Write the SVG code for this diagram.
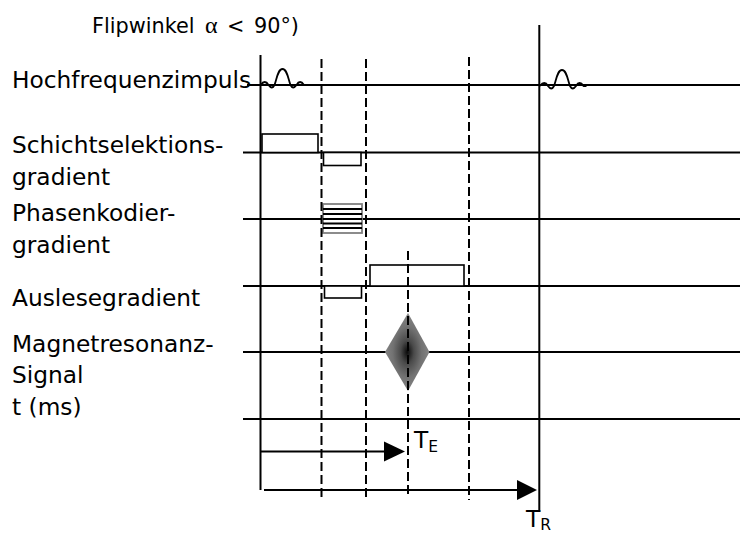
<svg xmlns="http://www.w3.org/2000/svg" width="740" height="535" viewBox="0 0 740 535">
  <defs>
    <style>
      .lbl { font-family: "DejaVu Sans", Verdana, sans-serif; font-size: 23.3px; fill: #000; }
      .cap { font-family: "DejaVu Sans", Verdana, sans-serif; font-size: 20.8px; fill: #000; }
      .greek { font-family: "Liberation Serif", "DejaVu Serif", serif; font-size: 24px; }
      .axis { stroke: #000; stroke-width: 2; fill: none; }
      .solid { stroke: #000; stroke-width: 2; fill: none; }
      .dash { stroke: #000; stroke-width: 2; fill: none; stroke-dasharray: 9 4; }
      .box { stroke: #000; stroke-width: 1.6; fill: #fff; }
      .pulse { stroke: #000; stroke-width: 1.8; fill: none; stroke-linejoin: round; }
      .stripe { stroke: #000; stroke-width: 1.8; }
      .head { fill: #000; }
    </style>
    <radialGradient id="echoFill" cx="0.5" cy="0.5" r="0.5">
      <stop offset="0" stop-color="#0a0a0a"/>
      <stop offset="0.3" stop-color="#4a4a4a"/>
      <stop offset="0.65" stop-color="#727272"/>
      <stop offset="1" stop-color="#858585"/>
    </radialGradient>
    <path id="rfPulse" d="M260.5,85 Q265,79 268.5,85 Q272,90 274.5,85 C277,78 278,69 282.5,69 C287,69 288,78 290.5,85 Q293,90 296.5,85 Q300,79 304,85 L307,85"/>
  </defs>

  <!-- Row labels -->
  <g id="labels">
    <text class="cap" x="92" y="33">Flipwinkel</text>
    <text class="cap greek" x="205" y="33">α</text>
    <text class="cap" x="227" y="33">&lt;</text>
    <text class="cap" x="254" y="33" font-size="22.5">90°)</text>
    <text class="lbl" x="12" y="88">Hochfrequenzimpuls</text>
    <text class="lbl" x="12" y="153">Schichtselektions-</text>
    <text class="lbl" x="12" y="185">gradient</text>
    <text class="lbl" x="12" y="221">Phasenkodier-</text>
    <text class="lbl" x="12" y="253">gradient</text>
    <text class="lbl" x="12" y="306">Auslesegradient</text>
    <text class="lbl" x="12" y="352">Magnetresonanz-</text>
    <text class="lbl" x="12" y="383">Signal</text>
    <text class="lbl" x="12" y="415">t (ms)</text>
  </g>

  <!-- Time axes of the sequence rows -->
  <g id="axes">
    <line class="axis" x1="247" y1="85" x2="740" y2="85"/>
    <line class="axis" x1="243" y1="152.5" x2="740" y2="152.5"/>
    <line class="axis" x1="243" y1="219" x2="740" y2="219"/>
    <line class="axis" x1="243" y1="286" x2="740" y2="286"/>
    <line class="axis" x1="243" y1="352" x2="740" y2="352"/>
    <line class="axis" x1="243" y1="419" x2="740" y2="419"/>
  </g>

  <!-- RF excitation pulses -->
  <g id="rf-pulse-1">
    <use href="#rfPulse" class="pulse"/>
  </g>
  <g id="rf-pulse-2">
    <use href="#rfPulse" class="pulse" transform="translate(279.5,1)"/>
  </g>

  <!-- Slice selection gradient -->
  <g id="slice-gradient">
    <rect class="box" x="262" y="134" width="56" height="18.5"/>
    <rect class="box" x="323.5" y="152.5" width="37.5" height="13"/>
  </g>

  <!-- Phase encoding gradient table -->
  <g id="phase-gradient">
    <rect x="323" y="204" width="39" height="29" fill="#fff" stroke="#808080" stroke-width="1.8"/>
    <line class="stripe" x1="323" y1="209" x2="362" y2="209"/>
    <line class="stripe" x1="323" y1="214" x2="362" y2="214"/>
    <line class="stripe" x1="323" y1="219" x2="362" y2="219"/>
    <line class="stripe" x1="323" y1="223.5" x2="362" y2="223.5"/>
    <line class="stripe" x1="323" y1="228" x2="362" y2="228"/>
  </g>

  <!-- Readout gradient -->
  <g id="readout-gradient">
    <rect class="box" x="324.5" y="286" width="37" height="12"/>
    <rect class="box" x="370" y="265" width="94" height="21"/>
  </g>

  <!-- Echo signal -->
  <g id="echo">
    <polygon points="408,313 429.5,352 408,391 385,352" fill="url(#echoFill)"/>
  </g>

  <!-- Timing markers and intervals -->
  <g id="connectors">
    <line class="solid" x1="260.5" y1="55" x2="260.5" y2="490"/>
    <line class="solid" x1="539.3" y1="25" x2="539.3" y2="512"/>
    <line class="dash" x1="321.5" y1="59" x2="321.5" y2="497"/>
    <line class="dash" x1="366" y1="59" x2="366" y2="497"/>
    <line class="dash" x1="408" y1="251" x2="408" y2="497"/>
    <line class="dash" x1="469" y1="57" x2="469" y2="500"/>
    <line class="solid" x1="260.5" y1="451.5" x2="386" y2="451.5"/>
    <polygon class="head" points="384,441.5 405,451.5 384,461.5"/>
    <line class="solid" x1="264" y1="490" x2="519" y2="490"/>
    <polygon class="head" points="517,480 537,490 517,500"/>
  </g>

  <g id="interval-labels">
    <text class="lbl" x="414" y="448">T<tspan font-size="15.5" dy="4">E</tspan></text>
    <text class="lbl" x="526" y="527">T<tspan font-size="15.5" dy="3">R</tspan></text>
  </g>
</svg>
